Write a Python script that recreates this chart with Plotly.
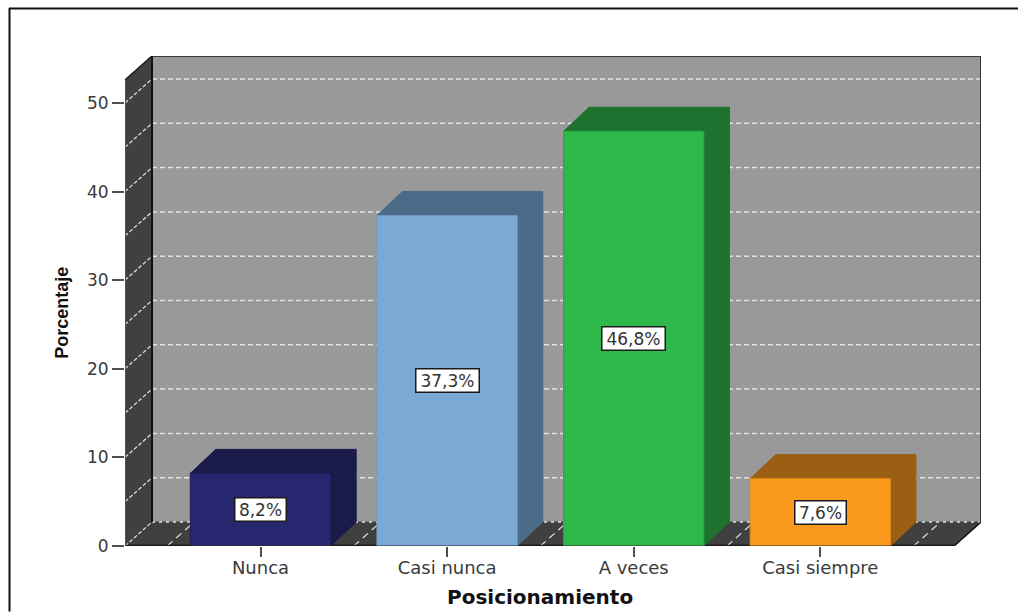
import plotly.graph_objects as go

# ---- data ----
categories = ["Nunca", "Casi nunca", "A veces", "Casi siempre"]
values = [8.2, 37.3, 46.8, 7.6]
labels = ["8,2%", "37,3%", "46,8%", "7,6%"]
y_ticks = [0, 10, 20, 30, 40, 50]
front_colors = ["#27276f", "#7ba9d6", "#2fb84a", "#fb991d"]
dark_colors = ["#1a1a4b", "#4b6a87", "#1c722e", "#9a5f12"]
edge_colors = ["#1f1f5c", "#6f9cc8", "#2aa844", "#e08a1a"]

# ---- geometry in axis units ----
W, H = 1018, 612
ML, MR, MT, MB = 125, 37, 56, 65.5
X_UNIT = 186.6
Y_UNIT = 8.87
X0 = -(260.5 - ML) / X_UNIT
X1 = X0 + (W - ML - MR) / X_UNIT
Y1 = (H - MB - MT) / Y_UNIT
DX = 27 / X_UNIT
BDX = 25.5 / X_UNIT
DY = 24 / Y_UNIT
HALF = 0.376
GRID = "#e4e4e4"

fig = go.Figure()


def poly(xs, ys, fill, line=None, width=1):
    fig.add_trace(go.Scatter(
        x=xs + xs[:1], y=ys + ys[:1], mode="lines", fill="toself", fillcolor=fill,
        line=dict(color=line or fill, width=width), hoverinfo="skip",
        showlegend=False, cliponaxis=False))


def seg(xs, ys, color, width=1.5, dash=None):
    fig.add_trace(go.Scatter(
        x=xs, y=ys, mode="lines", line=dict(color=color, width=width, dash=dash),
        hoverinfo="skip", showlegend=False, cliponaxis=False))


top_f = Y1 - DY
# back wall, left wall, floor
poly([X0 + DX, X1, X1, X0 + DX], [DY, DY, Y1, Y1], "#999999")
poly([X0, X0 + DX, X0 + DX, X0], [0, DY, Y1, top_f], "#404040")
poly([X0, X1 - DX, X1, X0 + DX], [0, 0, DY, DY], "#404040")

# grid on the walls
for g in range(5, 55, 5):
    seg([X0 + DX, X1], [g + DY, g + DY], GRID, 1.5, "5px,3px")
    seg([X0, X0 + DX], [g, g + DY], GRID, 1.2, "4px,2px")
seg([X0, X0 + DX], [0, DY], GRID, 1.2, "4px,2px")
seg([X0 + DX, X1], [DY, DY], GRID, 1.5, "3px,4px")
for i in range(5):
    fx = i - 0.5
    seg([fx, fx + DX], [0, DY], GRID, 1.2, "7px,5px")

# frame edges of the box
seg([X0 + DX, X1], [Y1, Y1], "#3c3c3c", 2)
seg([X0, X0 + DX], [top_f, Y1], "#202020", 1.5)
seg([X0 + DX, X0 + DX], [DY, Y1], "#111111", 2)
seg([X1, X1], [DY, Y1], "#3a3a3a", 2)
seg([X1 - DX, X1], [0, DY], "#111111", 1.5)
seg([X0, X1 - DX], [0, 0], "#000000", 2.5)
seg([X0, X0], [0, top_f], "#555555", 2)

# bars
for i, v in enumerate(values):
    l, r = i - HALF, i + HALF
    poly([r, r + BDX, r + BDX, r], [0, DY, v + DY, v], dark_colors[i])
    poly([l, r, r + BDX, l + BDX], [v, v, v + DY, v + DY], dark_colors[i])
    poly([l, r, r, l], [0, 0, v, v], front_colors[i], edge_colors[i], 1)

seg([X0, X1 - DX], [0, 0], "#333333", 1)

annotations = [
    dict(x=i, y=v / 2, xref="x", yref="y", text=labels[i], showarrow=False,
         width=len(labels[i]) * 12, align="center",
         font=dict(family="DejaVu Sans", size=17, color="#333333"),
         bgcolor="white", bordercolor="#1a1a1a", borderwidth=1.5, borderpad=1)
    for i, v in enumerate(values)
]
annotations.append(dict(
    x=1.5, xref="x", y=(H - MB - 598) / (H - MT - MB), yref="paper", text="<b>Posicionamiento</b>",
    xanchor="center", yanchor="middle", showarrow=False,
    font=dict(family="DejaVu Sans", size=20, color="#111111")))
annotations.append(dict(
    x=(62 - ML) / (W - ML - MR), xref="paper", y=(546.5 - 313) / Y_UNIT, yref="y", text="<b>Porcentaje</b>",
    textangle=-90, xanchor="center", yanchor="middle", showarrow=False,
    font=dict(family="Liberation Sans", size=18, color="#111111")))

# outer frame: only its top and left sides show in the crop
def px(p):
    return (p - ML) / (W - ML - MR)


def py(p):
    return (H - MB - p) / (H - MT - MB)


shapes = [
    dict(type="line", xref="paper", yref="paper", x0=px(9), x1=px(1018), y0=py(8.5), y1=py(8.5),
         line=dict(color="#111111", width=2)),
    dict(type="line", xref="paper", yref="paper", x0=px(9.5), x1=px(9.5), y0=py(8), y1=py(612),
         line=dict(color="#111111", width=2)),
]

fig.update_layout(
    width=W, height=H, margin=dict(l=ML, r=MR, t=MT, b=MB, pad=0),
    paper_bgcolor="white", plot_bgcolor="white", showlegend=False,
    annotations=annotations, shapes=shapes,
    xaxis=dict(range=[X0, X1], tickmode="array", tickvals=list(range(len(categories))),
               ticktext=categories, ticks="outside", ticklen=10, tickwidth=2, tickcolor="#505050",
               showgrid=False, zeroline=False, showline=False, ticklabelstandoff=-5,
               tickfont=dict(family="DejaVu Sans", size=18, color="#3a3a3a")),
    yaxis=dict(range=[0, Y1], tickmode="array", tickvals=y_ticks, ticks="outside", ticklen=12,
               tickwidth=2, tickcolor="#505050", showgrid=False, zeroline=False, showline=False,
               tickfont=dict(family="DejaVu Sans", size=17, color="#3a3a3a")),
)

fig.write_html("out.html", config={"displayModeBar": False},
               post_script="document.body.style.margin='0';document.body.style.overflow='hidden';")
